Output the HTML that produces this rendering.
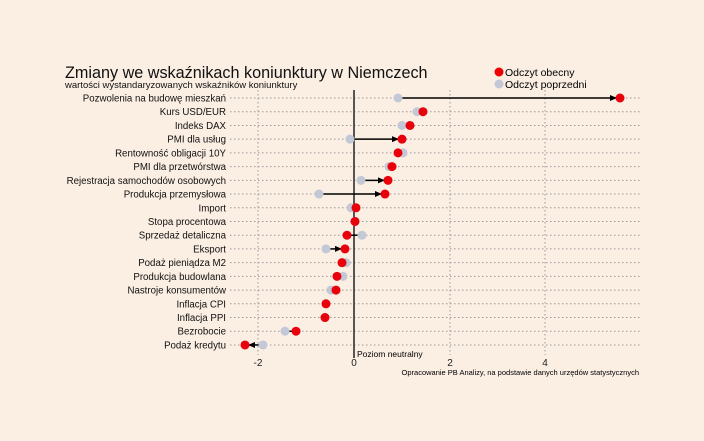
<!DOCTYPE html><html><head><style>body{margin:0;background:#fbeee3}svg{display:block;font-family:"Liberation Sans",sans-serif}</style></head><body>
<svg width="704" height="441" xmlns="http://www.w3.org/2000/svg">
<rect width="704" height="441" fill="#fbeee3"/>
<defs><marker id="a" markerUnits="userSpaceOnUse" markerWidth="7" markerHeight="7" refX="6" refY="3.5" orient="auto"><path d="M0,0.5L7,3.5L0,6.5z" fill="#000"/></marker></defs>
<text x="65" y="78" font-size="16.2" fill="#111">Zmiany we wskaźnikach koniunktury w Niemczech</text>
<text x="65" y="88" font-size="9.5" fill="#111">wartości wystandaryzowanych wskaźników koniunktury</text>
<circle cx="499" cy="72" r="4.5" fill="#e00"/><text x="505" y="76" font-size="10.5">Odczyt obecny</text>
<circle cx="499" cy="84" r="4.5" fill="#c3c8d6"/><text x="505" y="88" font-size="10.5">Odczyt poprzedni</text>
<g stroke="#999" stroke-dasharray="1.5,2.5" stroke-width="1">
<line x1="258" y1="90" x2="258" y2="355"/><line x1="450" y1="90" x2="450" y2="355"/><line x1="545" y1="90" x2="545" y2="355"/>
</g>
<g id="rows" stroke="#999" stroke-dasharray="1.5,2.5"></g>
<line x1="354" y1="90" x2="354" y2="358" stroke="#222" stroke-width="1.5"/>
<g font-size="10" text-anchor="middle" fill="#222"><text x="258" y="366">-2</text><text x="354" y="366">0</text><text x="450" y="366">2</text><text x="545" y="366">4</text></g>
<text x="357" y="357" font-size="8.5">Poziom neutralny</text>
<text x="639" y="375" font-size="7.5" text-anchor="end">Opracowanie PB Analizy, na podstawie danych urzędów statystycznych</text>
<g id="d"></g>
</svg>
<script>
var R=[["Pozwolenia na budowę mieszkań",398,620],["Kurs USD/EUR",417,423],["Indeks DAX",402,410],["PMI dla usług",350,402],["Rentowność obligacji 10Y",403,398],["PMI dla przetwórstwa",389,392],["Rejestracja samochodów osobowych",361,388],["Produkcja przemysłowa",319,385],["Import",351,356],["Stopa procentowa",355,355],["Sprzedaż detaliczna",362,347],["Eksport",326,345],["Podaż pieniądza M2",346,342],["Produkcja budowlana",343,337],["Nastroje konsumentów",331,336],["Inflacja CPI",326,326],["Inflacja PPI",325,325],["Bezrobocie",285,296],["Podaż kredytu",263,245]];
var ns="http://www.w3.org/2000/svg",g=document.getElementById("rows"),d=document.getElementById("d");
function el(p,t,a,txt){var e=document.createElementNS(ns,t);for(var k in a)e.setAttribute(k,a[k]);if(txt)e.textContent=txt;p.appendChild(e);return e;}
R.forEach(function(r,i){var y=98+i*13.72;
el(g,"line",{x1:230,x2:640,y1:y,y2:y});
el(d,"text",{x:226,y:y+3.5,"font-size":9.7,"text-anchor":"end",fill:"#111"},r[0]);
var df=r[2]-r[1];
if(Math.abs(df)>8){var s=df>0?1:-1;var a={x1:r[1],y1:y,x2:r[2]-s*4,y2:y,stroke:"#000","stroke-width":1.5};if(Math.abs(df)>15)a["marker-end"]="url(#a)";el(d,"line",a);}
el(d,"circle",{cx:r[1],cy:y,r:4.5,fill:"#c3c8d6"});
el(d,"circle",{cx:r[2],cy:y,r:4.5,fill:"#e8000b"});
});
</script>
</body></html>
